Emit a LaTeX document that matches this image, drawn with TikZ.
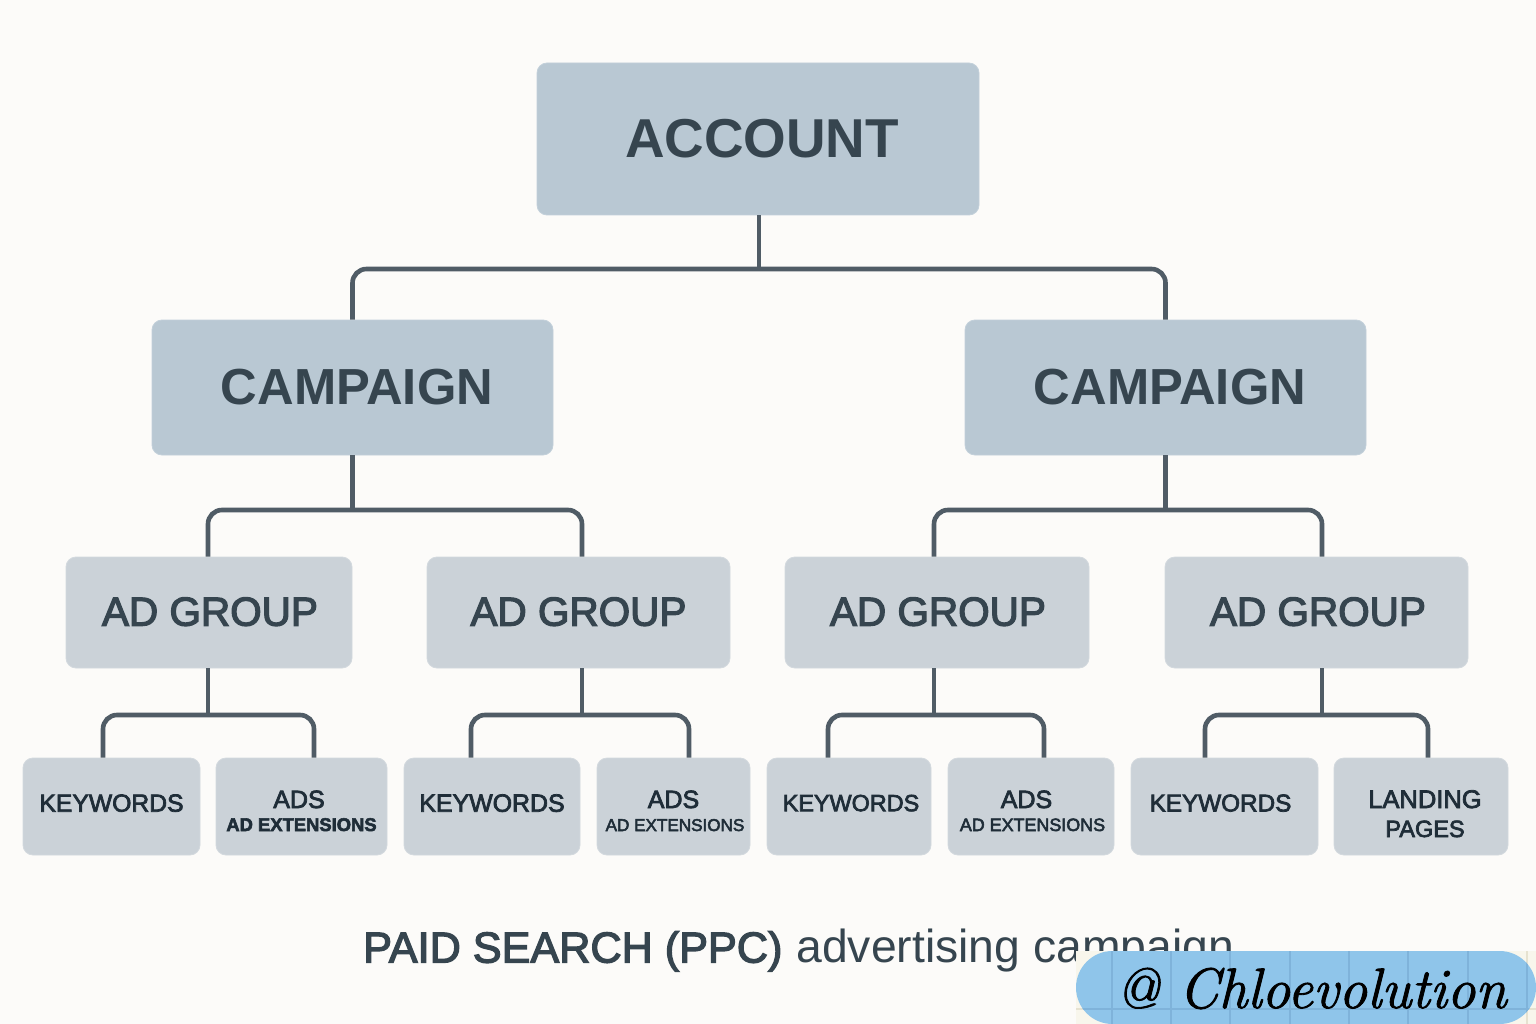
\documentclass[tikz,border=0pt]{standalone}
\usepackage{fontspec}
\setmainfont{Liberation Sans}
\newfontfamily\medfont[FakeBold=3]{Liberation Sans}
\newfontfamily\signfont[FakeBold=1.5]{Latin Modern Roman}
\usetikzlibrary{positioning}

\definecolor{paper}{HTML}{FCFBF9}
\definecolor{topfill}{HTML}{B9C8D3}
\definecolor{lowfill}{HTML}{CBD2D8}
\definecolor{inkc}{HTML}{36454F}
\definecolor{inkd}{HTML}{1F2D38}
\definecolor{linkc}{HTML}{505C66}
\definecolor{pillc}{HTML}{8FC5EA}
\definecolor{pillgrid}{HTML}{7FB3DA}
\definecolor{patchc}{HTML}{F8F6EC}
\definecolor{patchgrid}{HTML}{E6E2D0}

\tikzset{
  box/.style={draw=#1!85!white, fill=#1, line width=0.8pt, rounded corners=10pt, inner sep=0pt, align=center},
  accountbox/.style={box=topfill, text=inkc, font=\fontsize{54.8}{60}\bfseries\selectfont},
  campaignbox/.style={box=topfill, text=inkc, font=\fontsize{50.7}{54}\bfseries\selectfont},
  groupbox/.style={box=lowfill, text=inkc, text depth=2pt, font=\medfont\fontsize{40.5}{46}\selectfont},
  leafbox/.style={box=lowfill, text=inkd, minimum height=97pt, text depth=7pt, font=\medfont\fontsize{24.7}{28}\selectfont},
  twolines/.style={leafbox, text depth=0pt},
  link/.style={draw=linkc, line width=4.6pt, rounded corners=14pt},
  stem/.style={draw=linkc, line width=4.6pt}
}
% parent, shift of the stem, height of the bar, two children, shift of each end on its child
\newcommand{\branch}[7]{
  \coordinate (out#1) at ([xshift=#2pt]#1.south);
  \coordinate (bar#1) at (out#1 |- 0,#3);
  \draw[stem] (out#1) -- (bar#1);
  \draw[link] ([xshift=#6pt]#4.north) |- (bar#1) -| ([xshift=#7pt]#5.north);
}

\begin{document}
\begin{tikzpicture}[x=1pt,y=-1pt]
  \useasboundingbox (0,0) rectangle (1536,1024);
  \fill[paper] (0,0) rectangle (1536,1024);

  \node[accountbox, minimum width=442pt, minimum height=152pt] (account) at (758,139) {\hspace*{8pt}ACCOUNT};

  \node[campaignbox, minimum width=401pt, minimum height=135pt] (campa) at (352.5,387.5) {\hspace*{9pt}CAMPAIGN};
  \node[campaignbox, minimum width=401pt, minimum height=135pt] (campb) at (1165.5,387.5) {\hspace*{9pt}CAMPAIGN};

  \node[groupbox, minimum width=286pt, minimum height=111pt] (groupa) at (209,612.5) {\hspace*{2pt}AD GROUP};
  \node[groupbox, minimum width=303pt, minimum height=111pt] (groupb) at (578.5,612.5) {AD GROUP};
  \node[groupbox, minimum width=304pt, minimum height=111pt] (groupc) at (937,612.5) {\hspace*{2pt}AD GROUP};
  \node[groupbox, minimum width=303pt, minimum height=111pt] (groupd) at (1316.5,612.5) {\hspace*{3pt}AD GROUP};

  \node[leafbox, minimum width=177pt] (keya) at (111.5,806.5) {KEYWORDS};
  \node[twolines, minimum width=171pt] (adsa) at (301.5,806.5) {\rule{0pt}{26pt}\fontsize{25}{25}\selectfont ADS\hspace*{5pt}\\[-5pt]\bfseries\fontsize{18.4}{25}\selectfont AD EXTENSIONS};
  \node[leafbox, minimum width=176pt] (keyb) at (492,806.5) {\fontsize{24.9}{28}\selectfont KEYWORDS};
  \node[twolines, minimum width=153pt] (adsb) at (673.5,806.5) {\rule{0pt}{26pt}\fontsize{25}{25}\selectfont ADS\\[-5pt]\fontsize{17.1}{25}\selectfont\hspace*{3pt}AD EXTENSIONS};
  \node[leafbox, minimum width=164pt] (keyc) at (849,806.5) {\hspace*{4pt}\fontsize{23.4}{28}\selectfont KEYWORDS};
  \node[twolines, minimum width=166pt] (adsc) at (1031,806.5) {\rule{0pt}{26pt}\fontsize{25}{25}\selectfont ADS\hspace*{9pt}\\[-5pt]\fontsize{17.9}{25}\selectfont\hspace*{3pt}AD EXTENSIONS};
  \node[leafbox, minimum width=187pt] (keyd) at (1224.5,806.5) {\fontsize{24.3}{28}\selectfont KEYWORDS\hspace*{8pt}};
  \node[twolines, minimum width=174pt] (pages) at (1421,806.5) {\rule{0pt}{32pt}\hspace*{8pt}\fontsize{25.5}{28}\selectfont LANDING\\[1pt]\hspace*{8pt}\fontsize{23.5}{28}\selectfont PAGES};

  \branch{account}{1}{269}{campa}{campb}{0}{0}
  \branch{campa}{0}{510}{groupa}{groupb}{-1}{3.5}
  \branch{campb}{0}{510}{groupc}{groupd}{-3}{5.5}
  \branch{groupa}{-1}{715}{keya}{adsa}{-8.5}{12.5}
  \branch{groupb}{3.5}{715}{keyb}{adsb}{-21}{15.5}
  \branch{groupc}{-3}{715}{keyc}{adsc}{-21}{13}
  \branch{groupd}{5.5}{715}{keyd}{pages}{-19.5}{7}

  \node[anchor=base west, text=inkc, inner sep=0pt, font=\fontsize{46.3}{48}\selectfont] (title) at (363,962.5) {{\medfont\fontsize{43.2}{48}\selectfont PAID SEARCH (PPC)}\hspace{14pt}advertising campaign};

  % signature tag over the corner
  \fill[patchc] (1076,951) rectangle (1536,1024);
  \draw[patchgrid, line width=1.5pt] (1076,1009) -- (1536,1009) (1527,951) -- (1527,1024);
  \fill[pillc, rounded corners=36.5pt] (1076,951) rectangle (1536,1024);
  \begin{scope}
    \clip[rounded corners=36.5pt] (1076,951) rectangle (1536,1024);
    \foreach \gx in {1112,1171,1230,1290,1349,1408,1468,1527}
      \draw[pillgrid, line width=1.5pt] (\gx,951) -- (\gx,1024);
    \draw[pillgrid, line width=1.5pt] (1076,1009) -- (1536,1009);
  \end{scope}
  \node[anchor=base west, text=black, inner sep=0pt, font=\signfont\itshape\fontsize{57}{60}\selectfont] (sign) at (1116,1008) {@ Chloevolution};
\end{tikzpicture}
\end{document}
